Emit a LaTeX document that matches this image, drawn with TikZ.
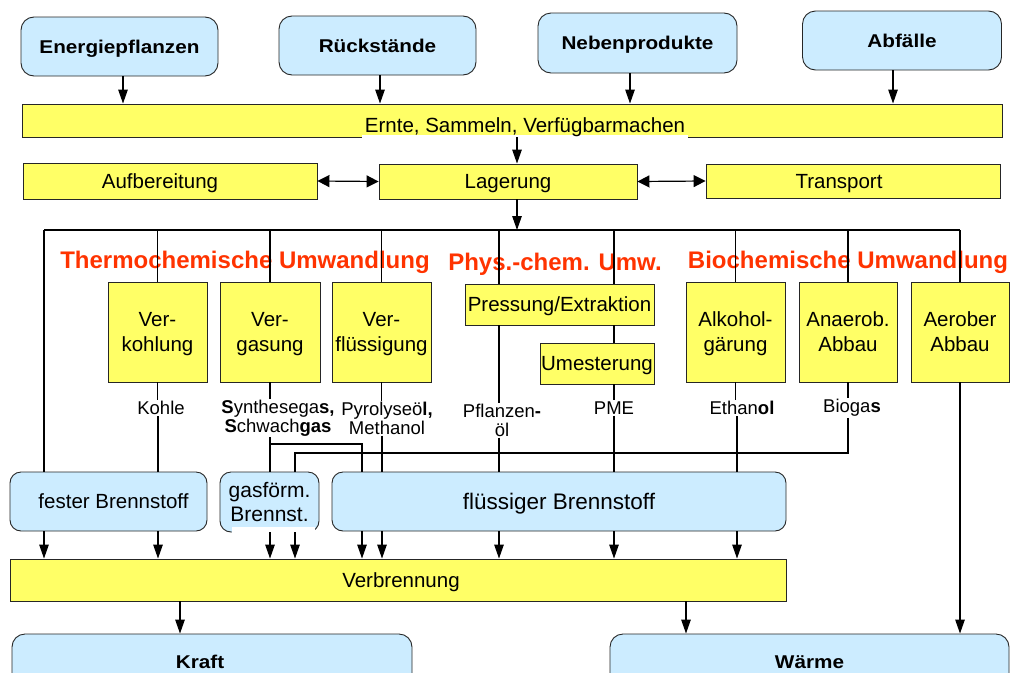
\documentclass[tikz,border=0pt]{standalone}
\usepackage{fontspec}
\setmainfont{Liberation Sans}
\newfontfamily\bwide[FakeStretch=1.12]{Liberation Sans}
\usetikzlibrary{arrows.meta}
\definecolor{yel}{HTML}{FFFF66}
\definecolor{blu}{HTML}{CCECFF}
\definecolor{hred}{HTML}{FF3300}
\tikzset{
  ybox/.style={draw=black!85, fill=yel, line width=0.9pt, inner sep=0pt, align=center,
    text depth=-1.5pt, font=\fontsize{20.5}{25}\selectfont},
  bbox/.style={draw=black!85, fill=blu, line width=0.9pt, inner sep=0pt, align=center,
    text depth=-1.5pt, rounded corners=11pt, font=\fontsize{20.5}{24}\selectfont},
  tb/.style={bbox, rounded corners=13pt, text depth=-4.5pt,
    font=\bwide\bfseries\fontsize{18.5}{20}\selectfont},
  txt/.style={inner sep=0pt, font=\fontsize{20.5}{25}\selectfont},
  lab/.style={inner sep=1pt, align=center, font=\fontsize{18.5}{19}\selectfont},
  head/.style={inner sep=0pt, text=hred, font=\bfseries\fontsize{24}{28}\selectfont},
  con/.style={line width=1.2pt},
  arr/.style={con, -{Triangle[length=14pt,width=9.5pt]}},
  darr/.style={con, {Triangle[length=12pt,width=12pt]}-{Triangle[length=12pt,width=12pt]}},
}
\begin{document}
\begin{tikzpicture}[x=1pt,y=-1pt]
\useasboundingbox (0,0) rectangle (1011,672);
\clip (0,0) rectangle (1011,672);
% x positions of connectors
\coordinate (xa1) at (123,0);
\coordinate (xa2) at (380,0);
\coordinate (xa3) at (630,0);
\coordinate (xa4) at (893,0);
\coordinate (xLg) at (517,0);
\coordinate (xKo) at (158,0);
\coordinate (xSy) at (270,0);
\coordinate (xBg) at (295,0);
\coordinate (xPa) at (362,0);
\coordinate (xPy) at (382,0);
\coordinate (xPf) at (499,0);
\coordinate (xPM) at (614,0);
\coordinate (xEt) at (737,0);
\coordinate (xBi) at (848,0);
\coordinate (xKr) at (180,0);
\coordinate (xWa) at (686,0);
\coordinate (h1) at (0,444);
\coordinate (h2) at (0,453);
\coordinate (busL) at (44,230);
\coordinate (busM) at (517,230);
\coordinate (busR) at (960,230);

% top sources
\node[tb, minimum width=197, minimum height=59] (energie) at (119.5,46.5) {Energiepflanzen};
\node[tb, minimum width=197, minimum height=59] (rueck) at (377.5,45.5) {Rückstände};
\node[tb, minimum width=199, minimum height=60] (neben) at (637.5,43) {Nebenprodukte};
\node[tb, minimum width=199, minimum height=59, text depth=-3pt] (abf) at (902,40.5) {Abfälle};

% harvest bar
\node[ybox, minimum width=980, minimum height=33] (ernte) at (512,120.5) {};
\fill[white] (362,134.5) rectangle (688,139);
\node[txt] (ernteT) at (525,127) {Ernte, Sammeln, Verfügbarmachen};

\node[ybox, minimum width=258, minimum height=35] (lager) at (508,181.5) {Lagerung};
\node[ybox, minimum width=294, minimum height=36] (aufb) at (170,181) {\hspace*{-20pt}Aufbereitung};
\node[ybox, minimum width=294, minimum height=34] (trans) at (853,181) {\hspace*{-28pt}Transport};

% headings
\node[head] (thermo) at (245,262) {Thermochemische Umwandlung};
\node[head] (phys) at (555,264) {Phys.-chem. Umw.};
\node[head] (bio) at (848,262) {Biochemische Umwandlung};

% process boxes
\node[ybox, minimum width=99, minimum height=100] (verk) at (157.5,332) {Ver-\\kohlung};
\node[ybox, minimum width=100, minimum height=100, text depth=1pt] (verg) at (270,332) {Ver-\\gasung};
\node[ybox, minimum width=99, minimum height=100] (verf) at (381.5,332) {Ver-\\flüssigung};
\node[ybox, minimum width=189, minimum height=41] (press) at (559.5,304.5) {Pressung/Extraktion};
\node[ybox, minimum width=114, minimum height=41] (umest) at (597,363.5) {Umesterung};
\node[ybox, minimum width=99, minimum height=100] (alk) at (735.5,332) {Alkohol-\\gärung};
\node[ybox, minimum width=98, minimum height=100] (anae) at (848,332) {Anaerob.\\Abbau};
\node[ybox, minimum width=98, minimum height=100] (aero) at (960,332) {Aerober\\Abbau};

% product labels
\node[lab] (kohle) at (161,408) {Kohle};
\node[lab] (syn) at (278,418) {\textbf{S}ynthesega\textbf{s,}\\\textbf{S}chwach\textbf{gas}};
\node[lab] (pyro) at (387,418) {Pyrolyseö\textbf{l,}\\Methanol};
\node[lab] (pfl) at (502,420) {Pflanzen\textbf{-}\\öl};
\node[lab] (pme) at (614,408) {PME};
\node[lab] (eth) at (742,408) {Ethan\textbf{ol}};
\node[lab] (biogas) at (852,408) {Bioga\textbf{s}};

% fuel boxes
\node[bbox, minimum width=197, minimum height=59] (fester) at (108.5,501.5) {\hspace*{10pt}fester Brennstoff};
\node[bbox, minimum width=99, minimum height=60, font=\fontsize{21}{24}\selectfont] (gas) at (269.5,502) {gasförm.\\Brennst.};
\fill[white] (232,527) rectangle (315,534);
\node[bbox, minimum width=454, minimum height=59, font=\fontsize{22.5}{26}\selectfont] (fluess) at (559,501.5) {flüssiger Brennstoff};

\node[ybox, minimum width=776, minimum height=42] (verbr) at (398,580) {\hspace*{6pt}Verbrennung};

\node[tb, minimum width=400, minimum height=56, text depth=-2pt] (kraft) at (212,662) {\hspace*{-24pt}Kraft};
\node[tb, minimum width=399, minimum height=56, text depth=-2pt] (waerme) at (809.5,662) {Wärme};

% arrows top
\draw[arr] (energie.south -| xa1) -- (ernte.north -| xa1);
\draw[arr] (rueck.south -| xa2) -- (ernte.north -| xa2);
\draw[arr] (neben.south -| xa3) -- (ernte.north -| xa3);
\draw[arr] (abf.south -| xa4) -- (ernte.north -| xa4);
\draw[arr] (ernte.south -| xLg) -- (lager.north -| xLg);
\draw[darr] (aufb.east) -- (lager.west);
\draw[darr] (lager.east) -- (trans.west);
\draw[arr] (lager.south -| xLg) -- (busM);

% distribution line
\draw[con] (busL) -- (busR);
\draw[con] (busL) -- (fester.north -| busL);
\draw[con] (busL -| verk) -- (verk.north);
\draw[con] (busL -| verg) -- (verg.north);
\draw[con] (busL -| verf) -- (verf.north);
\draw[con] (busL -| xPf) -- (press.north -| xPf);
\draw[con] (busL -| xPM) -- (press.north -| xPM);
\draw[con] (busL -| alk) -- (alk.north);
\draw[con] (busL -| anae) -- (anae.north);
\draw[con] (busR) -- (aero.north);

% process to products
\draw[con] (verk.south) -- (verk.south |- kohle.north);
\draw[con] (verg.south) -- (verg.south |- syn.north);
\draw[con] (verf.south) -- (verf.south |- pyro.north);
\draw[con] (press.south -| xPf) -- (pfl.north -| xPf);
\draw[con] (press.south -| xPM) -- (umest.north -| xPM);
\draw[con] (umest.south -| xPM) -- (pme.north -| xPM);
\draw[con] (alk.south) -- (alk.south |- eth.north);
\draw[con] (anae.south) -- (anae.south |- biogas.north);

% products to fuels
\draw[con] (kohle.south -| xKo) -- (fester.north -| xKo);
\draw[con] (syn.south -| xSy) -- (gas.north -| xSy);
\draw[con] (h1 -| xSy) -- (h1 -| xPa) -- (fluess.north -| xPa);
\draw[con] (biogas.south -| xBi) -- (h2 -| xBi) -- (h2 -| xBg) -- (gas.north -| xBg);
\draw[con] (pyro.south -| xPy) -- (fluess.north -| xPy);
\draw[con] (pfl.south -| xPf) -- (fluess.north -| xPf);
\draw[con] (pme.south -| xPM) -- (fluess.north -| xPM);
\draw[con] (eth.south -| xEt) -- (fluess.north -| xEt);

% fuels to combustion
\draw[arr] (fester.south -| busL) -- (verbr.north -| busL);
\draw[arr] (fester.south -| xKo) -- (verbr.north -| xKo);
\draw[arr] (gas.south -| xSy) -- (verbr.north -| xSy);
\draw[arr] (gas.south -| xBg) -- (verbr.north -| xBg);
\draw[arr] (fluess.south -| xPa) -- (verbr.north -| xPa);
\draw[arr] (fluess.south -| xPy) -- (verbr.north -| xPy);
\draw[arr] (fluess.south -| xPf) -- (verbr.north -| xPf);
\draw[arr] (fluess.south -| xPM) -- (verbr.north -| xPM);
\draw[arr] (fluess.south -| xEt) -- (verbr.north -| xEt);

% outputs
\draw[arr] (verbr.south -| xKr) -- (kraft.north -| xKr);
\draw[arr] (verbr.south -| xWa) -- (waerme.north -| xWa);
\draw[arr] (aero.south) -- (waerme.north -| aero);
\end{tikzpicture}
\end{document}
